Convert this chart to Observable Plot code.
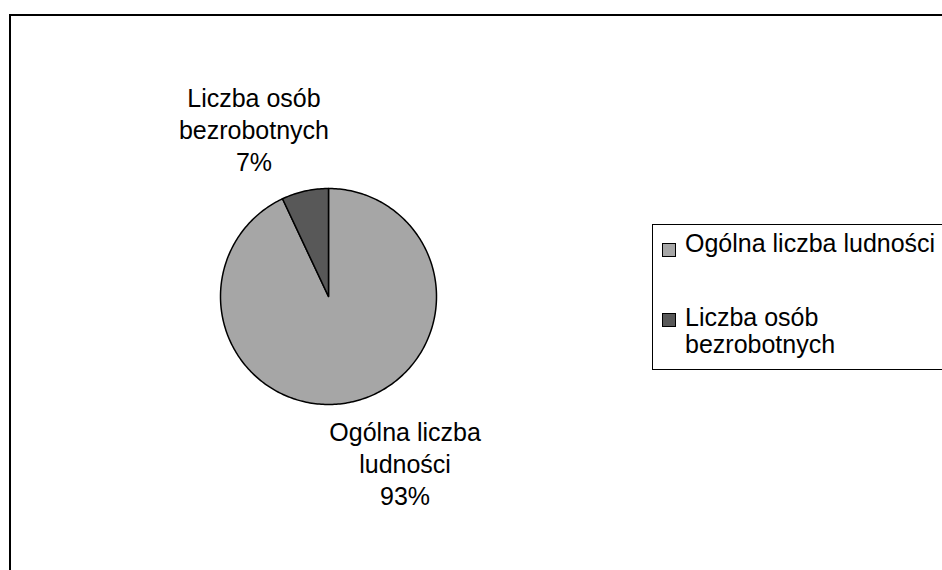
<!DOCTYPE html>
<html>
<head>
<meta charset="utf-8">
<script src="https://cdn.jsdelivr.net/npm/d3@7"></script>
<script src="https://cdn.jsdelivr.net/npm/@observablehq/plot@0.6"></script>
<style>
  html, body { margin: 0; padding: 0; background: #fff; }
  #wrap { position: relative; width: 942px; height: 570px; overflow: hidden; font-family: "Liberation Sans", Arial, sans-serif; }
  #border { position: absolute; left: 9px; top: 14px; width: 1000px; height: 700px; border-top: 2px solid #000; border-left: 2px solid #000; }
  #chart { position: absolute; left: 0; top: 0; }
  #legend { position: absolute; left: 652px; top: 224px; width: 400px; height: 144px; border: 1px solid #000; background: #fff; }
  .sw { position: absolute; width: 12px; height: 12px; border: 1px solid #000; }
  .lt { position: absolute; font-size: 25px; color: #000; white-space: nowrap; }
</style>
</head>
<body>
<div id="wrap">
  <div id="border"></div>
  <div id="chart"></div>
  <div id="legend"></div>
</div>
<script>
const categories = ["Ogólna liczba ludności", "Liczba osób bezrobotnych"];
const values = [93, 7];
const labelTexts = ["Ogólna liczba\nludności", "Liczba osób\nbezrobotnych"];
const legendTexts = ["Ogólna liczba ludności", "Liczba osób\nbezrobotnych"];
const colors = ["#a6a6a6", "#585858"];

const total = d3.sum(values);
// Build slice outlines in unit-circle coordinates (clockwise from 12 o'clock)
const pts = [];
const mids = [];
let acc = 0;
values.forEach((v, i) => {
  const a0 = acc / total * 2 * Math.PI;
  const a1 = (acc + v) / total * 2 * Math.PI;
  acc += v;
  const cat = categories[i];
  pts.push({cat, x: 0, y: 0});
  const n = Math.max(2, Math.ceil((a1 - a0) / (Math.PI / 180)));
  for (let k = 0; k <= n; k++) {
    const a = a0 + (a1 - a0) * k / n;
    pts.push({cat, x: Math.sin(a), y: Math.cos(a)});
  }
  pts.push({cat, x: 0, y: 0});
  const am = (a0 + a1) / 2;
  mids.push({cat, x: Math.sin(am), y: Math.cos(am),
    label: labelTexts[i] + "\n" + Math.round(v / total * 100) + "%"});
});

const font = "Liberation Sans, Arial, sans-serif";
const chart = Plot.plot({
  width: 942,
  height: 570,
  margin: 0,
  style: {background: "transparent", fontFamily: font},
  x: {domain: [-1, 1], range: [220, 436], axis: null},
  y: {domain: [-1, 1], range: [404, 188], axis: null},
  color: {domain: categories, range: colors},
  marks: [
    Plot.line(pts, {x: "x", y: "y", z: "cat", fill: "cat", stroke: "#000", strokeWidth: 1.5, strokeLinejoin: "round", curve: "linear"}),
    Plot.text(mids.filter(d => d.cat === categories[1]), {x: "x", y: "y", text: "label", dx: -51, dy: -62, fontSize: 25, lineHeight: 1.28, fill: "#000", textAnchor: "middle", lineAnchor: "middle", fontFamily: font}),
    Plot.text(mids.filter(d => d.cat === categories[0]), {x: "x", y: "y", text: "label", dx: 53, dy: 61, fontSize: 25, lineHeight: 1.28, fill: "#000", textAnchor: "middle", lineAnchor: "middle", fontFamily: font})
  ]
});
document.getElementById("chart").appendChild(chart);

// Legend
const legend = document.getElementById("legend");
const swTops = [18, 88];
const txtTops = [5, 79];
categories.forEach((c, i) => {
  const sw = document.createElement("div");
  sw.className = "sw";
  sw.style.left = "9px";
  sw.style.top = swTops[i] + "px";
  sw.style.background = colors[i];
  legend.appendChild(sw);
  const t = document.createElement("div");
  t.className = "lt";
  t.style.left = "32px";
  t.style.top = txtTops[i] + "px";
  t.style.lineHeight = "27px";
  t.innerHTML = legendTexts[i].split("\n").join("<br>");
  legend.appendChild(t);
});
</script>
</body>
</html>
